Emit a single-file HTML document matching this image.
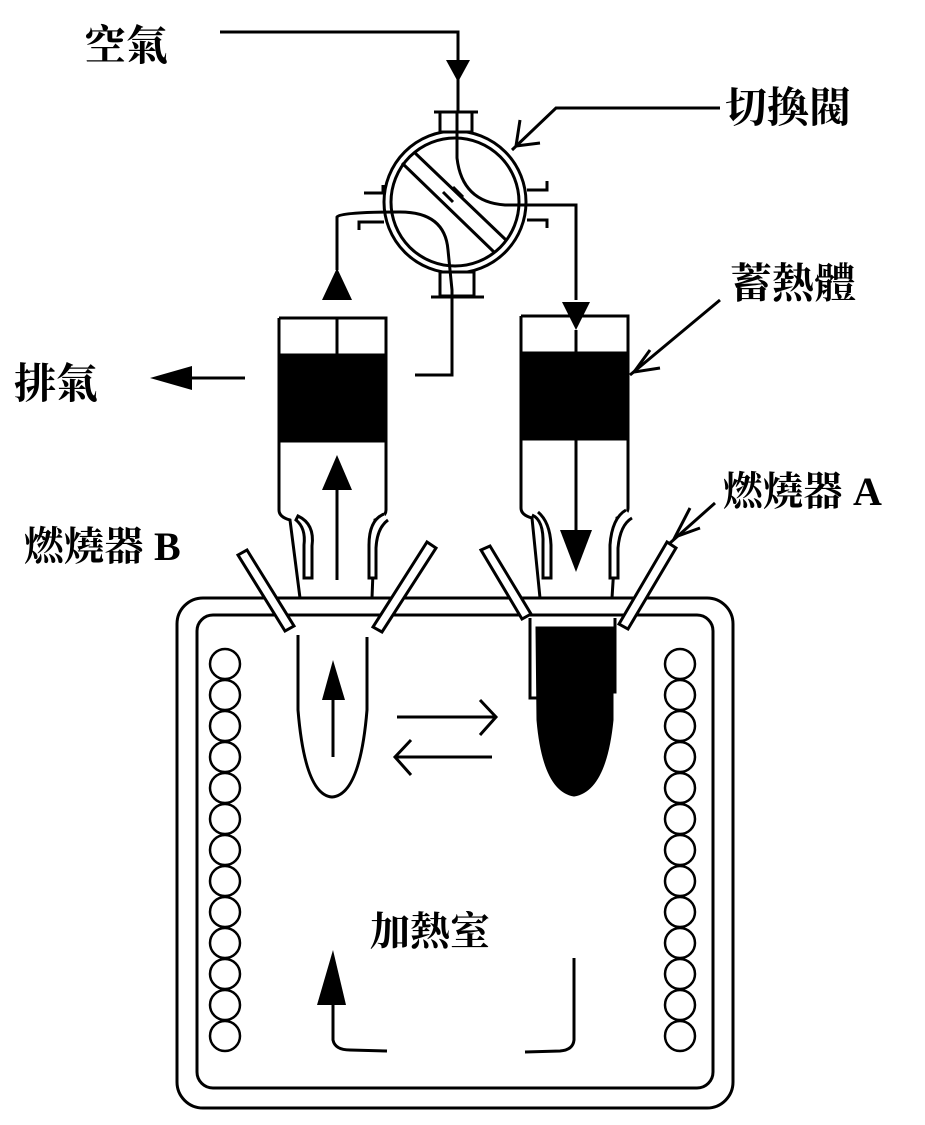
<!DOCTYPE html>
<html><head><meta charset="utf-8"><style>
html,body{margin:0;padding:0;background:#fff;}
svg{display:block;}
text{font-family:"Liberation Serif","Noto Serif CJK TC","Noto Serif CJK SC",serif;fill:#000;font-weight:bold;}
</style></head><body>
<svg width="925" height="1125" viewBox="0 0 925 1125" xmlns="http://www.w3.org/2000/svg">
<g fill="none" stroke="#000" stroke-width="3">
<!-- air inlet -->
<polyline points="220,32 458,32 458,112"/>
<polygon points="446,60 470,60 458,82" fill="#000" stroke="none"/>
<!-- valve -->
<circle cx="455" cy="202" r="71"/>
<circle cx="455" cy="202" r="64"/>
<rect x="440" y="112" width="32" height="20" fill="#fff"/>
<line x1="434" y1="112" x2="478" y2="112"/>
<rect x="440" y="272" width="34" height="24" fill="#fff"/>
<line x1="431" y1="297" x2="484" y2="297"/>
<polyline points="364,193 383,193 383,185"/>
<polyline points="359,230 359,222 384,222"/>
<polyline points="527,190 547,190 547,181"/>
<polyline points="527,220 547,220 547,228"/>
<!-- diagonal plate -->
<line x1="414" y1="152" x2="506" y2="240"/>
<line x1="402" y1="163" x2="494" y2="252"/>
<line x1="443" y1="192" x2="453" y2="202"/>
<line x1="453" y1="187" x2="463" y2="197"/>
<!-- internal flows -->
<path d="M457,112 L457,158 Q462,202 505,205 L576,205 L576,300"/>
<path d="M337,270 L337,217 Q340,212 400,212 Q445,212 448,250 L452,290 L452,375 L415,375"/>
<polygon points="322,300 352,300 337,268" fill="#000" stroke="none"/>
<polygon points="562,302 590,302 576,330" fill="#000" stroke="none"/>
<!-- left column -->
<path d="M279,318 L386,318 L386,510 Q386,517 375,520 L372,598 M279,318 L279,510 Q279,517 290,520 L300,598"/>
<rect x="279" y="355" width="107" height="86" fill="#000"/>
<path d="M296,520 Q306,528 304,545 L304,578 L312,578 L312,546 Q315,524 298,516 Z" fill="#fff"/>
<path d="M384,514 Q369,520 369,545 L369,578 L376,578 L376,548 Q377,528 388,520" fill="#fff"/>
<line x1="337" y1="318" x2="337" y2="355"/>
<line x1="337" y1="480" x2="337" y2="580"/>
<polygon points="322,490 352,490 337,455" fill="#000" stroke="none"/>
<!-- right column -->
<path d="M521,316 L628,316 L628,508 Q628,515 617,518 L612,598 M521,316 L521,508 Q521,515 532,518 L540,598"/>
<rect x="521" y="353" width="107" height="86" fill="#000"/>
<path d="M532,515 Q544,520 543,545 L543,578 L551,578 L551,545 Q550,522 538,512" fill="#fff"/>
<path d="M626,510 Q612,518 610,545 L610,578 L618,578 L618,548 Q620,525 632,518" fill="#fff"/>
<line x1="576" y1="330" x2="576" y2="540"/>
<polygon points="560,530 592,530 576,572" fill="#000" stroke="none"/>
<!-- chamber -->
<rect x="177" y="598" width="556" height="510" rx="26"/>
<rect x="197" y="615" width="516" height="473" rx="16"/>
<!-- burner tubes -->
<polygon points="238,555 247,550 294,626 285,631" fill="#fff"/>
<polygon points="427,542 436,548 382,632 373,627" fill="#fff"/>
<polygon points="481,550 490,546 531,614 522,619" fill="#fff"/>
<polygon points="667,542 676,548 628,629 619,624" fill="#fff"/>
<!-- burner A block -->
<polyline points="530,618 530,698 537,698"/>
<polyline points="615,618 615,692 612,692"/>
<path d="M537,628 L612,628 L612,720 Q605,790 574,795 Q544,790 538,720 Z" fill="#000"/>
<!-- flame B -->
<path d="M298,635 L298,710 Q305,795 332,797 Q360,795 367,710 L367,637"/>
<line x1="333" y1="690" x2="333" y2="757"/>
<polygon points="322,700 345,700 333,660" fill="#000" stroke="none"/>
<!-- exchange arrows -->
<polyline points="397,717 495,717"/>
<polyline points="480,700 496,717 480,735"/>
<polyline points="492,757 395,757"/>
<polyline points="411,740 395,757 411,775"/>
<!-- bottom circulation -->
<path d="M333,1000 L333,1040 Q335,1050 350,1050 L387,1051"/>
<polygon points="317,1005 346,1005 333,950" fill="#000" stroke="none"/>
<path d="M574,958 L574,1040 Q573,1050 560,1051 L525,1052"/>
<!-- leaders -->
<polyline points="720,108 556,108 512,150"/>
<polyline points="520,120 516,146 540,143"/>
<line x1="720" y1="300" x2="630" y2="375"/>
<polyline points="650,350 634,372 660,368"/>
<line x1="715" y1="503" x2="670" y2="543"/>
<polyline points="690,508 675,537 700,528"/>
<!-- exhaust -->
<line x1="245" y1="378" x2="180" y2="378"/>
<polygon points="150,378 192,366 192,390" fill="#000" stroke="none"/>
</g>
<!-- coils -->
<g fill="none" stroke="#000" stroke-width="2.5">
<circle cx="225" cy="664" r="15"/><circle cx="225" cy="695" r="15"/><circle cx="225" cy="726" r="15"/><circle cx="225" cy="757" r="15"/><circle cx="225" cy="788" r="15"/><circle cx="225" cy="819" r="15"/><circle cx="225" cy="850" r="15"/><circle cx="225" cy="881" r="15"/><circle cx="225" cy="912" r="15"/><circle cx="225" cy="943" r="15"/><circle cx="225" cy="974" r="15"/><circle cx="225" cy="1005" r="15"/><circle cx="225" cy="1036" r="15"/>
<circle cx="680" cy="664" r="15"/><circle cx="680" cy="695" r="15"/><circle cx="680" cy="726" r="15"/><circle cx="680" cy="757" r="15"/><circle cx="680" cy="788" r="15"/><circle cx="680" cy="819" r="15"/><circle cx="680" cy="850" r="15"/><circle cx="680" cy="881" r="15"/><circle cx="680" cy="912" r="15"/><circle cx="680" cy="943" r="15"/><circle cx="680" cy="974" r="15"/><circle cx="680" cy="1005" r="15"/><circle cx="680" cy="1036" r="15"/>
</g>
<text x="84" y="60" font-size="42">空氣</text>
<text x="725" y="122" font-size="42">切換閥</text>
<text x="730" y="298" font-size="42">蓄熱體</text>
<text x="14" y="398" font-size="42">排氣</text>
<text x="723" y="505" font-size="40">燃燒器 A</text>
<text x="24" y="560" font-size="40">燃燒器 B</text>
<text x="370" y="945" font-size="40">加熱室</text>
</svg>
</body></html>
